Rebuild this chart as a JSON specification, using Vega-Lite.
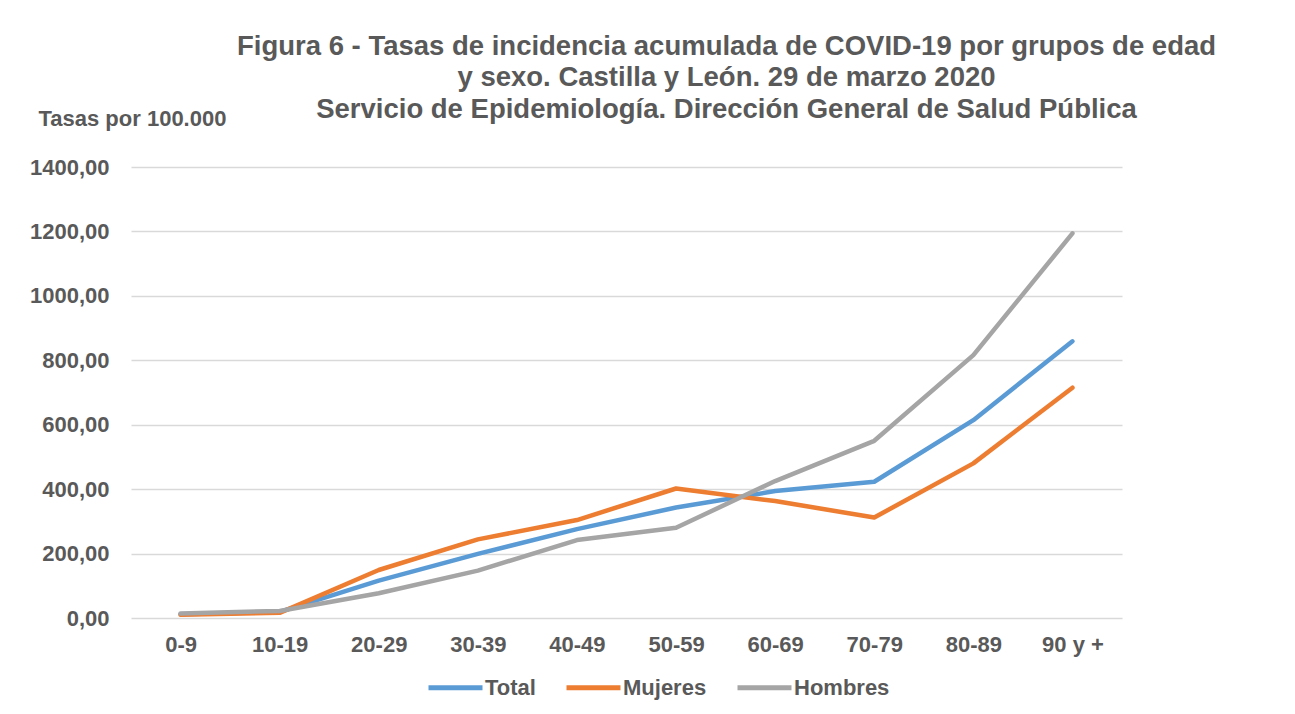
{
  "$schema": "https://vega.github.io/schema/vega-lite/v6.json",
  "autosize": "none",
  "width": 991,
  "height": 451,
  "padding": {"left": 131, "top": 167, "right": 173, "bottom": 96},
  "background": "white",
  "config": {
    "locale": {"number": {"decimal": ",", "thousands": ".", "grouping": [3], "currency": ["", " €"]}},
    "view": {"stroke": null},
    "font": "Liberation Sans"
  },
  "title": {
    "text": ["Figura 6 - Tasas de incidencia acumulada de COVID-19 por grupos de edad", "y sexo. Castilla y León. 29 de marzo 2020", "Servicio de Epidemiología. Dirección General de Salud Pública"],
    "font": "Liberation Sans",
    "fontSize": 27.5,
    "fontWeight": "bold",
    "color": "#595959",
    "anchor": "middle",
    "dx": 100,
    "lineHeight": 31.5,
    "offset": -16
  },
  "data": {
    "values": [
      {"grupo": "0-9", "serie": "Total", "tasa": 12},
      {"grupo": "0-9", "serie": "Mujeres", "tasa": 10},
      {"grupo": "0-9", "serie": "Hombres", "tasa": 14},
      {"grupo": "10-19", "serie": "Total", "tasa": 19},
      {"grupo": "10-19", "serie": "Mujeres", "tasa": 16},
      {"grupo": "10-19", "serie": "Hombres", "tasa": 22},
      {"grupo": "20-29", "serie": "Total", "tasa": 116},
      {"grupo": "20-29", "serie": "Mujeres", "tasa": 149},
      {"grupo": "20-29", "serie": "Hombres", "tasa": 77},
      {"grupo": "30-39", "serie": "Total", "tasa": 199},
      {"grupo": "30-39", "serie": "Mujeres", "tasa": 244},
      {"grupo": "30-39", "serie": "Hombres", "tasa": 147},
      {"grupo": "40-49", "serie": "Total", "tasa": 276},
      {"grupo": "40-49", "serie": "Mujeres", "tasa": 304},
      {"grupo": "40-49", "serie": "Hombres", "tasa": 242},
      {"grupo": "50-59", "serie": "Total", "tasa": 343},
      {"grupo": "50-59", "serie": "Mujeres", "tasa": 402},
      {"grupo": "50-59", "serie": "Hombres", "tasa": 280},
      {"grupo": "60-69", "serie": "Total", "tasa": 394},
      {"grupo": "60-69", "serie": "Mujeres", "tasa": 363},
      {"grupo": "60-69", "serie": "Hombres", "tasa": 425},
      {"grupo": "70-79", "serie": "Total", "tasa": 423},
      {"grupo": "70-79", "serie": "Mujeres", "tasa": 312},
      {"grupo": "70-79", "serie": "Hombres", "tasa": 550},
      {"grupo": "80-89", "serie": "Total", "tasa": 614},
      {"grupo": "80-89", "serie": "Mujeres", "tasa": 480},
      {"grupo": "80-89", "serie": "Hombres", "tasa": 816},
      {"grupo": "90 y +", "serie": "Total", "tasa": 859},
      {"grupo": "90 y +", "serie": "Mujeres", "tasa": 715},
      {"grupo": "90 y +", "serie": "Hombres", "tasa": 1194}
    ]
  },
  "mark": {"type": "line", "strokeWidth": 4.5, "strokeCap": "round", "strokeJoin": "round"},
  "encoding": {
    "x": {
      "field": "grupo",
      "type": "ordinal",
      "sort": null,
      "scale": {"type": "point", "padding": 0.5},
      "axis": {
        "title": null,
        "labelAngle": 0,
        "labelFont": "Liberation Sans",
        "labelFontSize": 22,
        "labelFontWeight": "bold",
        "labelColor": "#595959",
        "labelBaseline": "middle",
        "labelPadding": 26,
        "ticks": false,
        "domain": false,
        "grid": false
      }
    },
    "y": {
      "field": "tasa",
      "type": "quantitative",
      "scale": {"domain": [0, 1400], "nice": false},
      "axis": {
        "values": [0, 200, 400, 600, 800, 1000, 1200, 1400],
        "format": ".2f",
        "title": "Tasas por 100.000",
        "titleAngle": 0,
        "titleAlign": "left",
        "titleBaseline": "middle",
        "titleX": -93,
        "titleY": -49,
        "titleFont": "Liberation Sans",
        "titleFontSize": 22,
        "titleFontWeight": "bold",
        "titleColor": "#595959",
        "labelFont": "Liberation Sans",
        "labelFontSize": 22,
        "labelFontWeight": "bold",
        "labelColor": "#595959",
        "labelPadding": 22,
        "ticks": false,
        "domain": false,
        "grid": true,
        "gridColor": "#D9D9D9",
        "gridWidth": 1.5
      }
    },
    "color": {
      "field": "serie",
      "type": "nominal",
      "sort": ["Total", "Mujeres", "Hombres"],
      "scale": {"domain": ["Total", "Mujeres", "Hombres"], "range": ["#5B9BD5", "#ED7D31", "#A5A5A5"]},
      "legend": {
        "title": null,
        "orient": "none",
        "direction": "horizontal",
        "legendX": 295,
        "legendY": 491,
        "symbolType": "stroke",
        "symbolSize": 2916,
        "symbolStrokeWidth": 5,
        "labelFont": "Liberation Sans",
        "labelFontSize": 22,
        "labelFontWeight": "bold",
        "labelColor": "#595959",
        "labelOffset": 0,
        "columnPadding": 20
      }
    },
    "order": {"field": "grupo"}
  }
}
